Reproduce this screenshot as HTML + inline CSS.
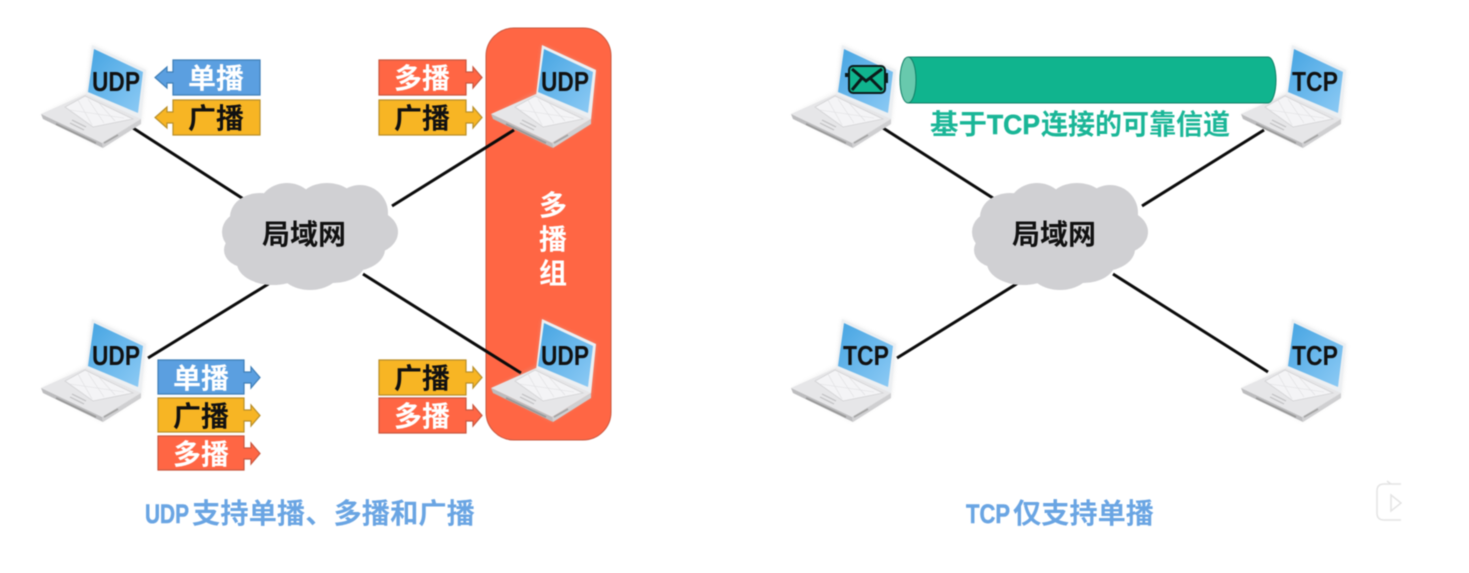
<!DOCTYPE html>
<html><head><meta charset="utf-8">
<style>
html,body{margin:0;padding:0;background:#fff;width:1469px;height:573px;overflow:hidden}
svg{display:block;filter:blur(.5px)}
text{font-family:"Liberation Sans","Noto Sans CJK SC",sans-serif;font-weight:700}
</style></head><body>
<svg width="1469" height="573" viewBox="0 0 1469 573" xmlns="http://www.w3.org/2000/svg">
<defs>
<filter id="s" x="-30%" y="-30%" width="160%" height="160%"><feGaussianBlur stdDeviation="2"/></filter>
<linearGradient id="scr" x1="0" y1="0" x2="1" y2="1"><stop offset="0" stop-color="#45a4e2"/><stop offset="1" stop-color="#8ecbf5"/></linearGradient>
<g id="lap">
<path d="M92 45L146 70L141 122L102 147L42 115L87 92Z" fill="#c8c8c8" opacity=".35" filter="url(#s)"/>
<path d="M92 45L146 70L141 120L86 96Z" fill="#eceff2"/>
<path d="M94 49L143 72L138 113L88 92Z" fill="url(#scr)"/>
<path d="M86 94L141 119L102 143L41 114Z" fill="#e6e6e8"/>
<path d="M41 114L102 143L103 148L43 119Z" fill="#bcbcbe"/>
<path d="M102 143L141 119L141 124L103 148Z" fill="#cfcfd1"/>
<path d="M85 96L133 119L93 127L65 107Z" fill="#f4f4f6" stroke="#d2d2d4" stroke-width=".8"/>
<path d="M78 100L92 125M88 99L104 123M99 103L115 121M70 110L124 118" stroke="#dedee0" stroke-width=".6" fill="none"/>
<path d="M72 120L86 127M70 123L84 130" stroke="#c0c0c2" stroke-width="1.200"/>
<path d="M56 124L96 143" stroke="#9a9a9a" stroke-width="1.800"/>
<path d="M104 143L118 135" stroke="#a4a4a4" stroke-width="1.800"/>
</g>
<g id="cloud">
<g fill="#d0d0d3">
<ellipse cx="-62" cy="-3" rx="21" ry="20"/>
<ellipse cx="-45" cy="-18" rx="30" ry="24"/>
<ellipse cx="-18" cy="-28" rx="28" ry="24"/>
<ellipse cx="22" cy="-30" rx="30" ry="22"/>
<ellipse cx="55" cy="-22" rx="28" ry="28"/>
<ellipse cx="65" cy="-3" rx="28" ry="22"/>
<ellipse cx="48" cy="14" rx="32" ry="22"/>
<ellipse cx="28" cy="28" rx="32" ry="20"/>
<ellipse cx="5" cy="32" rx="32" ry="23"/>
<ellipse cx="-32" cy="28" rx="36" ry="22"/>
<ellipse cx="-57" cy="15" rx="24" ry="18"/>
<ellipse cx="4" cy="0" rx="65" ry="36"/>
</g>
<text x="-1" y="9" font-size="28" fill="#111" text-anchor="middle" textLength="84" lengthAdjust="spacingAndGlyphs">局域网</text>
</g>
</defs>

<!-- left panel -->
<rect x="486" y="28" width="125" height="412" rx="28" fill="#ff6644" stroke="#c9573f" stroke-width="1"/>
<g stroke="#0b0b0b" stroke-width="3" fill="none">
<path d="M133 128L245 200M392 206L514 130M148 358L270 283M363 274L521 373"/>
<path d="M883 128L996 200M1142 206L1264 130M897 358L1018 283M1113 274L1268 372"/>
</g>
<use href="#lap"/>
<use href="#lap" x="450"/>
<use href="#lap" y="274"/>
<use href="#lap" x="450" y="274"/>
<use href="#cloud" x="305" y="235"/>
<use href="#cloud" x="1055" y="235"/>

<g fill="#111" font-size="28" text-anchor="middle">
<text x="116" y="91" textLength="48" lengthAdjust="spacingAndGlyphs">UDP</text>
<text x="565" y="91" textLength="48" lengthAdjust="spacingAndGlyphs">UDP</text>
<text x="116" y="365" textLength="48" lengthAdjust="spacingAndGlyphs">UDP</text>
<text x="565" y="365" textLength="48" lengthAdjust="spacingAndGlyphs">UDP</text>
</g>
<g fill="#fff" font-size="28" text-anchor="middle">
<text x="553" y="215">多</text><text x="553" y="249">播</text><text x="553" y="283">组</text>
</g>

<!-- arrows left-pointing -->
<path d="M173 60H260V95H173V83H167V88L155 77.500L167 67V72H173Z" fill="#5b9fe0" stroke="#3f7fb8" stroke-width="1.200"/>
<path d="M173 100H260V135H173V123H167V128L155 117.500L167 107V112H173Z" fill="#f7b524" stroke="#b98f2a" stroke-width="1.200"/>
<!-- right-pointing -->
<path d="M379 60H466V72H473V67L482 77.500L473 88V83H466V95H379Z" fill="#ff6644" stroke="#c9573f" stroke-width="1.200"/>
<path d="M379 100H466V112H473V107L482 117.500L473 128V123H466V135H379Z" fill="#f7b524" stroke="#b98f2a" stroke-width="1.200"/>
<path d="M379 360H466V372H473V367L482 377.500L473 388V383H466V395H379Z" fill="#f7b524" stroke="#b98f2a" stroke-width="1.200"/>
<path d="M379 398H466V410H473V405L482 415.500L473 426V421H466V433H379Z" fill="#ff6644" stroke="#c9573f" stroke-width="1.200"/>
<path d="M158 360H244V372H251V367L260 377.500L251 388V383H244V394H158Z" fill="#5b9fe0" stroke="#3f7fb8" stroke-width="1.200"/>
<path d="M158 398H244V410H251V405L260 415.500L251 426V421H244V432H158Z" fill="#f7b524" stroke="#b98f2a" stroke-width="1.200"/>
<path d="M158 436H244V448H251V443L260 453.500L251 464V459H244V470H158Z" fill="#ff6644" stroke="#c9573f" stroke-width="1.200"/>

<g font-size="28" text-anchor="middle">
<text x="216" y="88" fill="#fff">单播</text>
<text x="216" y="128" fill="#111">广播</text>
<text x="422" y="88" fill="#fff">多播</text>
<text x="422" y="128" fill="#111">广播</text>
<text x="422" y="388" fill="#111">广播</text>
<text x="422" y="426" fill="#fff">多播</text>
<text x="201" y="388" fill="#fff">单播</text>
<text x="201" y="426" fill="#111">广播</text>
<text x="201" y="464" fill="#fff">多播</text>
</g>
<g fill="#6aa5e3">
<text x="145" y="523" font-size="27" font-weight="400" textLength="44" lengthAdjust="spacingAndGlyphs" stroke="#6aa5e3" stroke-width=".5">UDP</text>
<text x="192" y="523" font-size="28" textLength="283" lengthAdjust="spacingAndGlyphs">支持单播、多播和广播</text>
<text x="966" y="523" font-size="27" font-weight="400" textLength="44" lengthAdjust="spacingAndGlyphs" stroke="#6aa5e3" stroke-width=".5">TCP</text>
<text x="1013" y="523" font-size="28" textLength="141" lengthAdjust="spacingAndGlyphs">仅支持单播</text>
</g>

<!-- right panel -->
<use href="#lap" x="750"/>
<use href="#lap" x="1200"/>
<use href="#lap" x="750" y="274"/>
<use href="#lap" x="1200" y="274"/>
<g fill="#111" font-size="28" text-anchor="middle">
<text x="1315" y="91" textLength="46" lengthAdjust="spacingAndGlyphs">TCP</text>
<text x="866" y="365" textLength="46" lengthAdjust="spacingAndGlyphs">TCP</text>
<text x="1315" y="365" textLength="46" lengthAdjust="spacingAndGlyphs">TCP</text>
</g>
<path d="M909 57H1268A8 23 0 0 1 1268 103H909Z" fill="#10b48e" stroke="#0f7f66" stroke-width="1"/>
<ellipse cx="908" cy="80" rx="8" ry="23" fill="#68c9ad" stroke="#0f7f66" stroke-width="1"/>
<g fill="#1ab697">
<text x="930" y="134" font-size="28" textLength="57" lengthAdjust="spacingAndGlyphs">基于</text>
<text x="987" y="134" font-size="28" font-weight="400" textLength="53" lengthAdjust="spacingAndGlyphs" stroke="#1ab697" stroke-width=".5">TCP</text>
<text x="1041" y="134" font-size="28" textLength="189" lengthAdjust="spacingAndGlyphs">连接的可靠信道</text>
</g>
<g stroke="#0c1a1a">
<rect x="849" y="66" width="36" height="27" rx="4" fill="#10b48e" stroke-width="2"/>
<path d="M852 69L866 81L882 69M852 90L862 78M882 90L870 78" fill="none" stroke-width="3"/>
<rect x="845" y="73" width="4" height="4" fill="#0c1a1a" stroke="none"/>
<rect x="885" y="73" width="3" height="10" fill="#0c1a1a" stroke="none"/>
</g>

<!-- watermark icon -->
<g fill="none" stroke="#e4e4e4" stroke-width="1.500">
<path d="M1401 484H1384Q1377 484 1377 491V513Q1377 520 1384 520H1401"/>
<path d="M1391 484L1387 481"/>
<path d="M1391 495L1401 503L1391 511Z"/>
</g>
</svg>
</body></html>
